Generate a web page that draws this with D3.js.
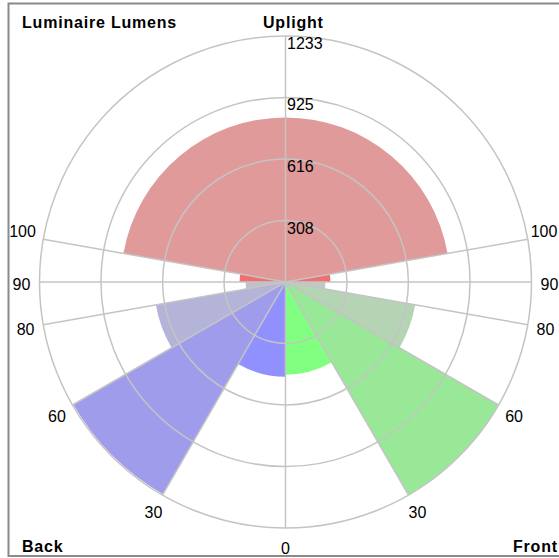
<!DOCTYPE html>
<html>
<head>
<meta charset="utf-8">
<script src="https://cdn.jsdelivr.net/npm/d3@7"></script>
<style>
  body { margin: 0; background: #fff; }
  svg { display: block; }
  .grid { fill: none; stroke: #c4c4c4; stroke-width: 1.5; }
  .num { font-family: "Liberation Sans", Arial, sans-serif; font-size: 16px; fill: #000; }
  .title { font-family: "Liberation Sans", Arial, sans-serif; font-size: 16px; font-weight: bold; letter-spacing: 0.8px; fill: #000; }
</style>
</head>
<body>
<div id="output"></div>
<script>
// zones, angles measured from nadir: front side 0..180, back side 180..360
const zones = ['FL', 'FM', 'FH', 'FVH', 'UL front', 'UH', 'UL back', 'BVH', 'BH', 'BM', 'BL'];
const zoneFrom = [0, 30, 60, 80, 90, 100, 260, 270, 280, 300, 330];
const zoneTo = [30, 60, 80, 90, 100, 260, 270, 280, 300, 330, 360];
const zoneLumens = [465, 1233, 660, 200, 225, 825, 230, 200, 660, 1228, 475];
const zoneColors = ['#80ff80', '#98e898', '#b4d4b4', '#c0c8c0', '#f07070', '#e09a9a',
                    '#f07070', '#c0c0cc', '#b4b4d8', '#a09cec', '#9090ff'];

const ringTicks = [308, 616, 925, 1233];
const spokeAngles = [0, 30, 60, 80, 90, 100];   // labelled on both sides
const maxLumens = 1233;

const width = 559, height = 558;
const cx = 285.5, cy = 282, outerR = 246;

const svg = d3.select('#output')
  .append('svg')
  .attr('width', width)
  .attr('height', height);

// frame
svg.append('path')
  .attr('d', `M${width},3.5 H8.5 V556 H${width}`)
  .attr('fill', 'none')
  .attr('stroke', '#8a8a8a')
  .attr('stroke-width', 2);

const g = svg.append('g').attr('transform', `translate(${cx},${cy})`);

const r = d3.scaleLinear().domain([0, maxLumens]).range([0, outerR]);
// nadir angle (deg) -> d3 arc angle (rad, 0 = up, clockwise)
const toRad = a => Math.PI - a * Math.PI / 180;

const arc = d3.arc()
  .innerRadius(0)
  .outerRadius(d => r(d.value))
  .startAngle(d => toRad(d.to))
  .endAngle(d => toRad(d.from));

const sectors = zones.map((z, i) => ({
  name: z, from: zoneFrom[i], to: zoneTo[i], value: zoneLumens[i], color: zoneColors[i]
}));

g.selectAll('.sector')
  .data(sectors)
  .join('path')
  .attr('class', 'sector')
  .attr('d', arc)
  .attr('fill', d => d.color);

// rings
g.selectAll('.ring')
  .data(ringTicks)
  .join('circle')
  .attr('class', 'grid')
  .attr('r', d => r(d));

// spokes, both sides plus the straight-up one
const spokes = spokeAngles.concat(spokeAngles.filter(a => a > 0).map(a => 360 - a), [180]);
g.selectAll('.spoke')
  .data(spokes)
  .join('line')
  .attr('class', 'grid')
  .attr('x1', 0).attr('y1', 0)
  .attr('x2', a => outerR * Math.sin(toRad(a)))
  .attr('y2', a => -outerR * Math.cos(toRad(a)));

// spoke labels (the ones above horizontal sit a bit higher)
const labelR = outerR + 18;
const spokeLabels = spokeAngles.map(a => ({ a, text: a }))
  .concat(spokeAngles.filter(a => a > 0).map(a => ({ a: 360 - a, text: a })));
g.selectAll('.spoke-label')
  .data(spokeLabels)
  .join('text')
  .attr('class', 'num')
  .attr('text-anchor', 'middle')
  .attr('dominant-baseline', 'central')
  .attr('x', d => labelR * Math.sin(toRad(d.a)) + (d.text > 90 ? (d.a < 180 ? -1.5 : -3) : 0))
  .attr('y', d => -labelR * Math.cos(toRad(d.a)) + (d.text > 90 ? -5 : 2))
  .text(d => d.text);

// ring labels
g.selectAll('.ring-label')
  .data(ringTicks)
  .join('text')
  .attr('class', 'num')
  .attr('x', 1.5)
  .attr('y', d => -r(d) + 13)
  .text(d => d);

// titles
svg.append('text').attr('class', 'title').attr('x', 22).attr('y', 28).text('Luminaire Lumens');
svg.append('text').attr('class', 'title').attr('x', 263).attr('y', 28).text('Uplight');
svg.append('text').attr('class', 'title').attr('x', 22).attr('y', 552).text('Back');
svg.append('text').attr('class', 'title').attr('x', 513).attr('y', 552).text('Front');
</script>
</body>
</html>
